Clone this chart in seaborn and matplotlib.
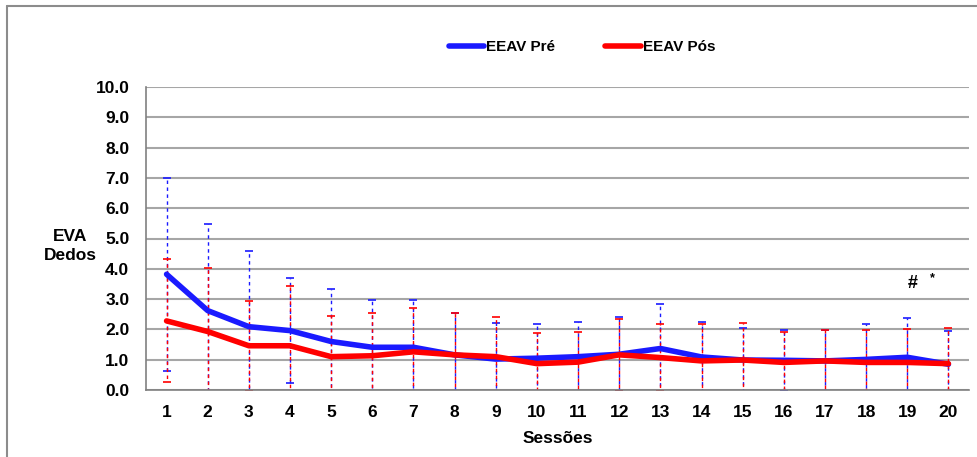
import matplotlib
matplotlib.use("Agg")
import matplotlib.pyplot as plt
from matplotlib.lines import Line2D
import numpy as np
import pandas as pd
import seaborn as sns

# Sessions and mean VAS scores (fingers) with standard deviations
sessoes = list(range(1, 21))
pre_media = [3.82, 2.62, 2.09, 1.96, 1.60, 1.41, 1.41, 1.16, 1.02, 1.05,
             1.10, 1.18, 1.37, 1.09, 0.99, 0.98, 0.96, 1.01, 1.08, 0.85]
pre_dp = [3.19, 2.87, 2.51, 1.74, 1.74, 1.56, 1.56, 1.39, 1.20, 1.13,
          1.15, 1.22, 1.48, 1.15, 1.06, 1.00, 1.02, 1.17, 1.29, 1.10]
pos_media = [2.28, 1.93, 1.46, 1.46, 1.10, 1.13, 1.26, 1.16, 1.10, 0.87,
             0.92, 1.16, 1.07, 0.96, 0.99, 0.91, 0.96, 0.91, 0.91, 0.87]
pos_dp = [2.03, 2.11, 1.49, 1.96, 1.35, 1.40, 1.46, 1.39, 1.31, 1.00,
          0.99, 1.18, 1.10, 1.21, 1.23, 1.02, 1.02, 1.07, 1.10, 1.19]
grupos = ["EEAV Pré", "EEAV Pós"]
cores = {"EEAV Pré": "#1a1aff", "EEAV Pós": "#ff0000"}
yticks = [0.0, 1.0, 2.0, 3.0, 4.0, 5.0, 6.0, 7.0, 8.0, 9.0, 10.0]

df = pd.DataFrame({
    "Sessão": sessoes * 2,
    "EVA": pre_media + pos_media,
    "Grupo": [grupos[0]] * 20 + [grupos[1]] * 20,
})

sns.set_style("white")
plt.rcParams["font.family"] = ["Liberation Sans", "DejaVu Sans"]
plt.rcParams["font.weight"] = "bold"
plt.rcParams["text.color"] = "black"
plt.rcParams["axes.labelcolor"] = "black"

fig = plt.figure(figsize=(9.78, 4.57), dpi=100)
ax = fig.add_axes([146 / 978, 1 - 390 / 457, (969 - 146) / 978, (390 - 87) / 457])

grid_c = "#a6a6a6"
ax.set_axisbelow(True)
ax.yaxis.grid(True, color=grid_c, linewidth=1.5)

# Dashed standard-deviation bars for each group
for media, dp, nome, dash in [(pre_media, pre_dp, grupos[0], (0, (2.5, 2.5))),
                              (pos_media, pos_dp, grupos[1], (2.5, (2.5, 2.5)))]:
    eb = ax.errorbar(sessoes, media, yerr=dp, fmt="none", ecolor=cores[nome],
                     elinewidth=1.0, capsize=3, capthick=1.2, zorder=2)
    eb[2][0].set_linestyle(dash)

sns.lineplot(data=df, x="Sessão", y="EVA", hue="Grupo", palette=cores,
             linewidth=4, ax=ax, legend=False, zorder=3)

ax.set_xlim(0.5, 20.5)
ax.set_ylim(0, 10)
ax.set_yticks(yticks)
ax.set_yticklabels([f"{v:.1f}" for v in yticks], fontsize=12.5, fontweight="bold")
ax.set_xticks(sessoes)
ax.set_xticklabels([str(s) for s in sessoes], fontsize=12.5, fontweight="bold")
ax.set_xticks(np.arange(0.5, 21, 1), minor=True)
ax.tick_params(axis="x", which="major", length=0, pad=11, labelcolor="black")
ax.tick_params(axis="x", which="minor", length=5, width=1.2, color="#808080", direction="out")
ax.tick_params(axis="y", which="major", length=5, width=1.2, color="#808080", direction="out",
               pad=7, labelcolor="black")

for s in ["top", "right"]:
    ax.spines[s].set_visible(False)
for s in ["left", "bottom"]:
    ax.spines[s].set_color("#808080")
    ax.spines[s].set_linewidth(1.2)

ax.set_xlabel("Sessões", fontsize=12.5, fontweight="bold", labelpad=8)
ax.set_ylabel("")
fig.text(70 / 978, 1 - 246 / 457, "EVA\nDedos", ha="center", va="center",
         fontsize=12.5, fontweight="bold", linespacing=1.3)

# Significance marks on the last sessions
ax.text(19.12, 3.5, "#", ha="center", va="center", fontsize=13, fontweight="bold")
ax.text(19.62, 3.68, "*", ha="center", va="center", fontsize=9, fontweight="bold")

handles = [Line2D([0], [0], color=cores[g], linewidth=4, solid_capstyle="round") for g in grupos]
fig.legend(handles, grupos, loc="center", bbox_to_anchor=(582 / 978, 1 - 47 / 457),
           ncol=2, frameon=False, prop={"size": 11, "weight": "bold"},
           handlelength=2.3, handletextpad=0.15, columnspacing=3.3)

# Outer frame of the figure
fig.add_artist(Line2D([7.5 / 978, 7.5 / 978], [0, 1 - 5.5 / 457], transform=fig.transFigure,
                      color="#8c8c8c", linewidth=1.5))
fig.add_artist(Line2D([7.5 / 978, 1], [1 - 5.5 / 457, 1 - 5.5 / 457], transform=fig.transFigure,
                      color="#8c8c8c", linewidth=1.5))

fig.savefig("out.png", dpi=100)
